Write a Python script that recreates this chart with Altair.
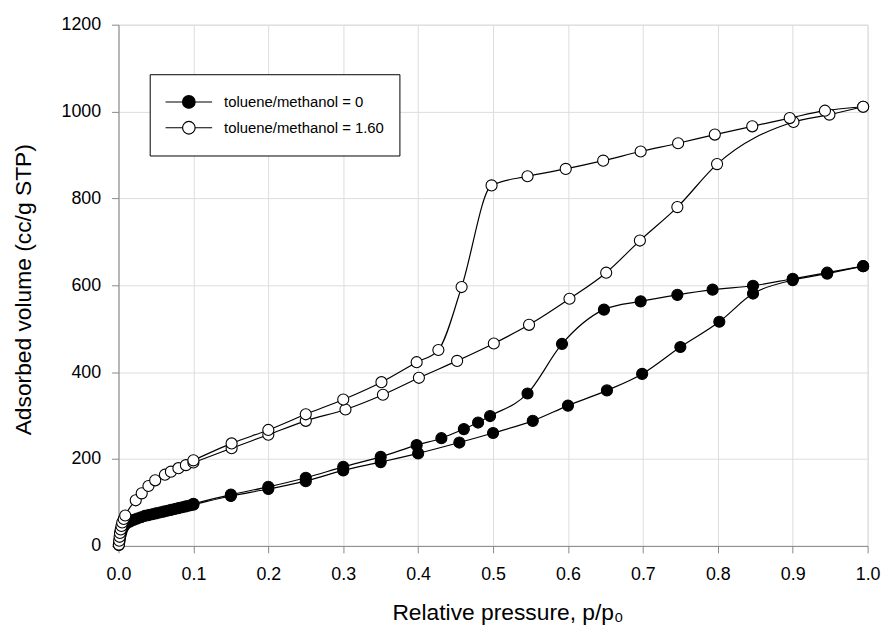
import altair as alt
import pandas as pd

S0 = "toluene/methanol = 0"
S1 = "toluene/methanol = 1.60"

# filled series, adsorption branch
f_ads_x = [0.0005, 0.001, 0.0015, 0.002, 0.003, 0.004, 0.005, 0.007, 0.01, 0.015, 0.02, 0.025,
           0.03, 0.035, 0.04, 0.045, 0.05, 0.055, 0.06, 0.065, 0.07, 0.075, 0.08, 0.085, 0.09,
           0.095, 0.1, 0.15, 0.2, 0.25, 0.3, 0.35, 0.4, 0.455, 0.5, 0.553, 0.6, 0.652, 0.699,
           0.75, 0.802, 0.847, 0.9, 0.946, 0.994]
f_ads_y = [2, 8, 14, 20, 27, 33, 39, 45, 51, 56, 60, 63, 66, 69, 71, 73, 75, 77, 79, 81, 83, 85,
           87, 89, 91, 93, 95, 115, 131, 149, 174, 193, 213, 238, 260, 288, 323, 358, 396, 458,
           516, 581, 612, 627, 644]
# filled series, desorption branch
f_des_x = [0.1, 0.15, 0.2, 0.25, 0.3, 0.35, 0.398, 0.431, 0.461, 0.48, 0.496, 0.546, 0.592,
           0.648, 0.697, 0.746, 0.793, 0.847, 0.9, 0.946, 0.994]
f_des_y = [97, 118, 136, 157, 182, 205, 232, 248, 269, 284, 299, 351, 465, 544, 563, 578, 590,
           599, 615, 629, 644]
# open series, adsorption branch
o_ads_x = [0.0005, 0.001, 0.0015, 0.002, 0.003, 0.004, 0.005, 0.007, 0.009, 0.023, 0.031, 0.04,
           0.049, 0.062, 0.07, 0.08, 0.09, 0.1, 0.151, 0.2, 0.25, 0.303, 0.353, 0.401, 0.452,
           0.501, 0.548, 0.602, 0.651, 0.696, 0.746, 0.799, 0.901, 0.949, 0.994]
o_ads_y = [3, 12, 21, 30, 38, 46, 54, 62, 70, 105, 121, 138, 151, 164, 171, 179, 186, 192, 225,
           256, 288, 314, 348, 387, 426, 466, 509, 569, 629, 703, 780, 879, 976, 993, 1011]
# open series, desorption branch
o_des_x = [0.1, 0.151, 0.2, 0.25, 0.3, 0.351, 0.398, 0.427, 0.458, 0.498, 0.546, 0.597, 0.647,
           0.697, 0.747, 0.796, 0.846, 0.896, 0.943, 0.994]
o_des_y = [197, 236, 267, 303, 337, 377, 423, 451, 596, 830, 851, 868, 887, 908, 927, 947, 966,
           985, 1002, 1011]

x_ticks = [0.0, 0.1, 0.2, 0.3, 0.4, 0.5, 0.6, 0.7, 0.8, 0.9, 1.0]
y_ticks = [0, 200, 400, 600, 800, 1000, 1200]

rows = []
for series, branch, xs, ys in [
    (S0, "ads", f_ads_x, f_ads_y),
    (S0, "des", f_des_x, f_des_y),
    (S1, "ads", o_ads_x, o_ads_y),
    (S1, "des", o_des_x, o_des_y),
]:
    for xv, yv in zip(xs, ys):
        rows.append({"series": series, "curve": series + " " + branch, "p": xv, "v": yv})
df = pd.DataFrame(rows)

FONT = "Liberation Sans"

x_enc = alt.X(
    "p:Q",
    scale=alt.Scale(domain=[0, 1], nice=False, zero=False),
    axis=alt.Axis(
        values=x_ticks, format=".1f", title="Relative pressure, p/p\u2080",
        tickSize=7, labelPadding=13, labelFontSize=18, titleFontSize=23, labelFlush=False,
        titleX=392.5, titleY=74, titleBaseline="alphabetic", titleAlign="center",
        titleFontWeight="normal",
    ),
)
y_enc = alt.Y(
    "v:Q",
    scale=alt.Scale(domain=[0, 1200], nice=False),
    axis=alt.Axis(
        values=y_ticks, format="d", title="Adsorbed volume (cc/g STP)",
        tickSize=7, labelPadding=11, labelFontSize=18, titleFontSize=23, labelFlush=False,
        titleAngle=270, titleX=-89, titleY=267, titleBaseline="alphabetic",
        titleAlign="center", titleFontWeight="normal",
    ),
)

SYMBOL = "M-1,0H-0.27M0.27,0H1M-0.27,0A0.27,0.27,0,1,1,0.27,0A0.27,0.27,0,1,1,-0.27,0Z"

base = alt.Chart(df)
lines = base.mark_line(color="black", strokeWidth=1.2, interpolate="monotone").encode(
    x=x_enc, y=y_enc, detail="curve:N", order="p:Q"
)
points = base.mark_point(
    shape="circle", size=125, filled=True, stroke="black", strokeWidth=1.1, opacity=1
).encode(
    x=x_enc,
    y=y_enc,
    fill=alt.Fill(
        "series:N",
        scale=alt.Scale(domain=[S0, S1], range=["black", "white"]),
        legend=alt.Legend(
            title=None, orient="none", legendX=31.5, legendY=50, direction="vertical",
            symbolType=SYMBOL, symbolSize=2209, symbolStrokeColor="black",
            symbolStrokeWidth=1.2, labelFont=FONT, labelFontSize=15, labelColor="black",
            labelOffset=11, padding=15, rowPadding=0, clipHeight=26, strokeColor="black",
            fillColor="white", labelLimit=400,
        ),
    ),
)

chart = (
    alt.layer(lines, points)
    .properties(
        width=756, height=526,
        autosize=alt.AutoSizeParams(type="none"),
        padding={"left": 111.5, "top": 14, "right": 15.5, "bottom": 81},
    )
    .configure_view(stroke="black", strokeWidth=1)
    .configure_axis(
        grid=False, domainColor="black", tickColor="black", labelColor="black",
        titleColor="black", labelFont=FONT, titleFont=FONT, domainWidth=1, tickWidth=1,
    )
    .configure(background="white")
)

chart.save("out.html", embed_options={"renderer": "svg", "actions": False})
